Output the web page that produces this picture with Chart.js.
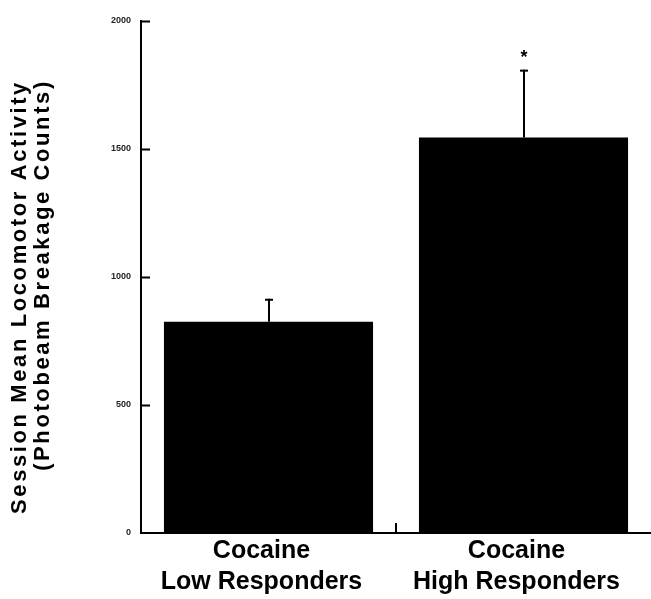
<!DOCTYPE html>
<html>
<head>
<meta charset="utf-8">
<script src="https://cdn.jsdelivr.net/npm/chart.js@4.4.1/dist/chart.umd.min.js"></script>
<style>
  html, body { margin: 0; padding: 0; background: #fff; }
  #wrap { width: 651px; height: 599px; position: relative; }
</style>
</head>
<body>
<div id="wrap"><canvas id="c" width="651" height="599"></canvas></div>
<script>
// Groups and their session means
const groups = [['Cocaine', 'Low Responders'], ['Cocaine', 'High Responders']];
const means = [825, 1545];
// Upper end of each error bar (mean + SEM)
const errorTops = [915, 1810];
// Significance markers per group
const marks = ['', '*'];
// Y axis tick values
const yTicks = [0, 500, 1000, 1500, 2000];
const yTitle = ['Session Mean Locomotor Activity', '(Photobeam Breakage Counts)'];

const FONT = '"Liberation Sans", Arial, Helvetica, sans-serif';

// Inward tick marks, error bars, significance star and the rotated y title
const decor = {
  id: 'decor',
  afterDatasetsDraw(chart) {
    const ctx = chart.ctx;
    const x = chart.scales.x, y = chart.scales.y;
    const area = chart.chartArea;
    ctx.save();
    ctx.strokeStyle = '#000';
    ctx.lineWidth = 2;
    // y ticks pointing into the plot
    yTicks.forEach(v => {
      if (v === 0) return;
      const py = Math.round(y.getPixelForValue(v)) + 0.5;
      ctx.beginPath();
      ctx.moveTo(area.left, py);
      ctx.lineTo(area.left + 9, py);
      ctx.stroke();
    });
    // x tick between the two groups
    for (let i = 1; i < groups.length; i++) {
      const px = Math.round((x.getPixelForValue(i - 1) + x.getPixelForValue(i)) / 2);
      ctx.beginPath();
      ctx.moveTo(px, area.bottom);
      ctx.lineTo(px, area.bottom - 10);
      ctx.stroke();
    }
    // error bars
    means.forEach((m, i) => {
      const px = Math.round(x.getPixelForValue(i));
      const pTop = y.getPixelForValue(errorTops[i]);
      const pMean = y.getPixelForValue(m);
      ctx.beginPath();
      ctx.moveTo(px, pMean);
      ctx.lineTo(px, pTop);
      ctx.stroke();
      ctx.beginPath();
      ctx.moveTo(px - 4, pTop + 1);
      ctx.lineTo(px + 4, pTop + 1);
      ctx.stroke();
      if (marks[i]) {
        ctx.fillStyle = '#000';
        ctx.font = 'bold 18px ' + FONT;
        ctx.textAlign = 'center';
        ctx.textBaseline = 'middle';
        ctx.fillText(marks[i], px, pTop - 12);
      }
    });
    ctx.restore();

    // rotated two-line axis title
    ctx.save();
    ctx.fillStyle = '#000';
    ctx.font = 'bold 22px ' + FONT;
    ctx.letterSpacing = '2.6px';
    ctx.textAlign = 'center';
    ctx.textBaseline = 'middle';
    const centers = [[20, 297], [43, 275]];
    yTitle.forEach((t, i) => {
      ctx.save();
      ctx.translate(centers[i][0], centers[i][1]);
      ctx.rotate(-Math.PI / 2);
      ctx.fillText(t, 0, 0);
      ctx.restore();
    });
    ctx.restore();
  }
};

new Chart(document.getElementById('c'), {
  type: 'bar',
  data: {
    labels: groups,
    datasets: [{
      data: means,
      backgroundColor: '#000',
      borderWidth: 0,
      barPercentage: 0.82,
      categoryPercentage: 1.0
    }]
  },
  options: {
    responsive: false,
    animation: false,
    layout: { padding: { top: 21, right: 0, left: 0, bottom: 0 } },
    plugins: { legend: { display: false }, tooltip: { enabled: false } },
    scales: {
      x: {
        grid: { display: false, drawTicks: false },
        border: { display: true, color: '#000', width: 2 },
        ticks: {
          color: '#000',
          padding: 2,
          labelOffset: -7,
          maxRotation: 0,
          font: { family: FONT, size: 25, weight: 'bold', lineHeight: 1.25 }
        },
        afterFit(scale) { scale.height = 66; }
      },
      y: {
        min: 0,
        max: 2000,
        grid: { display: false, drawTicks: false },
        border: { display: true, color: '#000', width: 2 },
        afterBuildTicks(scale) { scale.ticks = yTicks.map(v => ({ value: v })); },
        ticks: {
          color: '#222',
          padding: 10,
          font: { family: FONT, size: 9, weight: 'bold' },
          callback: v => String(v)
        },
        afterFit(scale) { scale.width = 141; }
      }
    }
  },
  plugins: [decor]
});
</script>
</body>
</html>
